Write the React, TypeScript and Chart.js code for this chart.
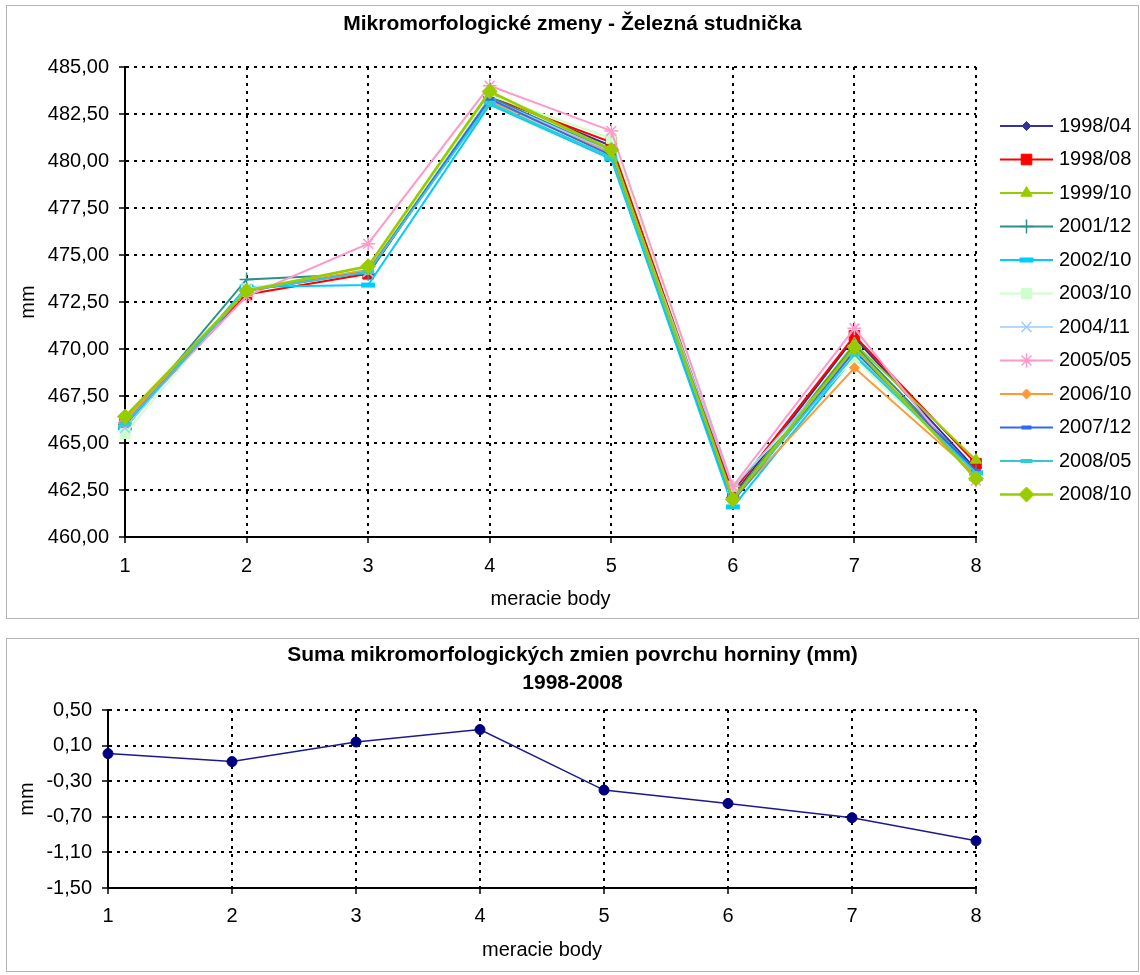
import React, { useEffect, useRef } from 'react';
import { Chart, registerables } from 'chart.js';
import { drawPoint } from 'chart.js/helpers';

Chart.register(...registerables);

const FONT = '"Liberation Sans", Arial, sans-serif';

// measuring points (x categories)
const points = ['1', '2', '3', '4', '5', '6', '7', '8'];

// top chart series (mm)
const seriesNames = ['1998/04', '1998/08', '1999/10', '2001/12', '2002/10', '2003/10', '2004/11', '2005/05', '2006/10', '2007/12', '2008/05', '2008/10'];
const s1998_04 = [466.2, 473.1, 474.2, 483.5, 480.8, 462.2, 470.6, 463.6];
const s1998_08 = [466.0, 472.9, 474.0, 483.4, 481.0, 462.4, 470.7, 463.9];
const s1999_10 = [466.3, 473.1, 474.3, 483.6, 480.6, 462.1, 470.3, 464.1];
const s2001_12 = [466.0, 473.7, 474.0, 483.4, 480.5, 462.1, 470.2, 463.5];
const s2002_10 = [465.8, 473.3, 473.4, 483.0, 480.1, 461.6, 469.6, 463.4];
const s2003_10 = [465.5, 473.2, 474.3, 483.5, 481.2, 462.7, 469.5, 463.3];
const s2004_11 = [465.8, 473.2, 474.1, 483.3, 480.5, 462.6, 469.9, 463.2];
const s2005_05 = [466.1, 472.8, 475.6, 484.0, 481.6, 462.7, 471.1, 463.0];
const s2006_10 = [466.2, 473.1, 474.2, 483.2, 480.4, 462.0, 469.0, 463.3];
const s2007_12 = [466.0, 473.1, 474.1, 483.3, 480.3, 461.9, 469.9, 463.5];
const s2008_05 = [466.0, 473.1, 474.1, 483.1, 480.2, 462.0, 469.7, 463.4];
const s2008_10 = [466.4, 473.1, 474.4, 483.7, 480.6, 462.0, 470.1, 463.1];
const seriesValues = [s1998_04, s1998_08, s1999_10, s2001_12, s2002_10, s2003_10, s2004_11, s2005_05, s2006_10, s2007_12, s2008_05, s2008_10];

// bottom chart: sum of changes (mm)
const sumValues = [0.01, -0.08, 0.14, 0.28, -0.40, -0.55, -0.71, -0.97];

const topTitle = 'Mikromorfologické zmeny - Železná studnička';
const bottomTitle = ['Suma mikromorfologických zmien povrchu horniny (mm)', '1998-2008'];
const xTitle = 'meracie body';
const yTitle = 'mm';

// visual styles per series (not data)
const styles = [
  { color: '#333399', point: 'rectRot', r: 4.5, bw: 1, lw: 2 },
  { color: '#FF0000', point: 'rect', r: 7.5, bw: 1, lw: 2 },
  { color: '#99CC00', point: 'triangle', r: 6.5, bw: 1, lw: 2 },
  { color: '#2F8F8F', point: 'cross', r: 7, bw: 1.5, lw: 2 },
  { color: '#00CCFF', point: 'line', r: 7, bw: 5, lw: 2 },
  { color: '#CCFFCC', point: 'rect', r: 7, bw: 1, lw: 2 },
  { color: '#99CCFF', point: 'crossRot', r: 7, bw: 1.5, lw: 1.5 },
  { color: '#FF99CC', point: 'star', r: 7, bw: 1.5, lw: 2 },
  { color: '#FF9933', point: 'rectRot', r: 5, bw: 1, lw: 2 },
  { color: '#3366FF', point: 'line', r: 5, bw: 4, lw: 2 },
  { color: '#33CCCC', point: 'line', r: 6, bw: 4, lw: 2 },
  { color: '#99CC00', point: 'rectRot', r: 7.5, bw: 1, lw: 2.5 },
];

const TXT = 20;
const fmt = (v: number) => v.toFixed(2).replace('.', ',');

const sideLegend = {
  id: 'sideLegend',
  afterDraw(chart: any) {
    const ctx = chart.ctx;
    const { right, top } = chart.chartArea;
    chart.data.datasets.forEach((ds: any, i: number) => {
      const y = top + 59 + i * 33.5;
      const x0 = right + 24;
      const x1 = right + 77;
      ctx.save();
      ctx.strokeStyle = ds.borderColor;
      ctx.lineWidth = ds.borderWidth;
      ctx.beginPath();
      ctx.moveTo(x0, y);
      ctx.lineTo(x1, y);
      ctx.stroke();
      ctx.fillStyle = ds.pointBackgroundColor;
      ctx.strokeStyle = ds.pointBorderColor;
      ctx.lineWidth = ds.pointBorderWidth;
      drawPoint(ctx, { pointStyle: ds.pointStyle, radius: ds.pointRadius, rotation: 0, borderWidth: ds.pointBorderWidth } as any, (x0 + x1) / 2, y);
      ctx.fillStyle = '#000';
      ctx.font = `${TXT}px ${FONT}`;
      ctx.textBaseline = 'middle';
      ctx.textAlign = 'left';
      ctx.fillText(ds.label, x1 + 6, y);
      ctx.restore();
    });
  },
};

function axisCommon(axisW: number | null, axisH: number | null) {
  return {
    grid: { color: '#000', lineWidth: 2, tickColor: '#000', tickWidth: 1.5, tickLength: 6, tickBorderDash: [] },
    border: { display: true, color: '#000', width: 2, dash: [3, 5] },
    afterFit: (s: any) => {
      if (axisW !== null) s.width = axisW;
      if (axisH !== null) s.height = axisH;
    },
  };
}

// empty axis on the right, reserving room for the legend so the title stays centred on the whole box
const spacerAxis = {
  type: 'linear',
  position: 'right',
  display: true,
  min: 0,
  max: 1,
  grid: { display: false },
  border: { display: false },
  ticks: { display: false },
  afterFit: (s: any) => {
    s.width = 162;
  },
};

function makeTopConfig(): any {
  return {
    type: 'line',
    data: {
      labels: points,
      datasets: seriesNames.map((name, i) => ({
        label: name,
        data: seriesValues[i],
        borderColor: styles[i].color,
        backgroundColor: styles[i].color,
        borderWidth: styles[i].lw,
        pointStyle: styles[i].point,
        pointRadius: styles[i].r,
        pointBackgroundColor: styles[i].color,
        pointBorderColor: styles[i].color,
        pointBorderWidth: styles[i].bw,
        tension: 0,
        clip: false,
        order: seriesNames.length - i,
      })),
    },
    options: {
      animation: false,
      responsive: false,
      events: [],
      layout: { padding: 0 },
      plugins: {
        legend: { display: false },
        tooltip: { enabled: false },
        title: {
          display: true,
          text: topTitle,
          color: '#000',
          font: { family: FONT, size: 21, weight: 'bold', lineHeight: 1.2 },
          padding: { top: 6, bottom: 29.8 },
        },
      },
      scales: {
        x: {
          type: 'category',
          offset: false,
          ...axisCommon(null, 81),
          ticks: { color: '#000', font: { family: FONT, size: TXT }, padding: 11, autoSkip: false, maxRotation: 0 },
          title: { display: true, text: xTitle, color: '#000', font: { family: FONT, size: TXT }, padding: { top: 0, bottom: 7 } },
        },
        y: {
          min: 460,
          max: 485,
          ...axisCommon(118, null),
          ticks: { stepSize: 2.5, color: '#000', font: { family: FONT, size: TXT }, padding: 10, callback: (v: any) => fmt(Number(v)) },
          title: { display: true, text: yTitle, color: '#000', font: { family: FONT, size: TXT }, padding: { top: 9, bottom: 0 } },
        },
        spacer: spacerAxis,
      },
    },
    plugins: [sideLegend],
  };
}

function makeBottomConfig(): any {
  return {
    type: 'line',
    data: {
      labels: points,
      datasets: [
        {
          label: 'Suma',
          data: sumValues,
          borderColor: '#1A1A8C',
          backgroundColor: '#000080',
          borderWidth: 1.5,
          pointStyle: 'circle',
          pointRadius: 5,
          pointBackgroundColor: '#000080',
          pointBorderColor: '#000080',
          pointBorderWidth: 1,
          tension: 0,
          clip: false,
        },
      ],
    },
    options: {
      animation: false,
      responsive: false,
      events: [],
      layout: { padding: 0 },
      plugins: {
        legend: { display: false },
        tooltip: { enabled: false },
        title: {
          display: true,
          text: bottomTitle,
          color: '#000',
          font: { family: FONT, size: 21, weight: 'bold', lineHeight: 1.333 },
          padding: { top: 2, bottom: 13 },
        },
      },
      scales: {
        x: {
          type: 'category',
          offset: false,
          ...axisCommon(null, 83),
          ticks: { color: '#000', font: { family: FONT, size: TXT }, padding: 10.5, autoSkip: false, maxRotation: 0 },
          title: { display: true, text: xTitle, color: '#000', font: { family: FONT, size: TXT }, padding: { top: 0, bottom: 9 } },
        },
        y: {
          min: -1.5,
          max: 0.5,
          ...axisCommon(101, null),
          ticks: { stepSize: 0.4, color: '#000', font: { family: FONT, size: TXT }, padding: 10, callback: (v: any) => fmt(Number(v)) },
          title: { display: true, text: yTitle, color: '#000', font: { family: FONT, size: TXT }, padding: { top: 8, bottom: 0 } },
        },
        spacer: spacerAxis,
      },
    },
  };
}

function ChartBox(props: { left: number; top: number; width: number; height: number; make: () => any }) {
  const ref = useRef<HTMLCanvasElement | null>(null);
  useEffect(() => {
    if (!ref.current) return;
    const chart = new Chart(ref.current, props.make());
    return () => chart.destroy();
  }, []);
  return (
    <div
      style={{
        position: 'absolute',
        left: props.left,
        top: props.top,
        width: props.width,
        height: props.height,
        boxSizing: 'border-box',
        border: '1px solid #b4b4b4',
        background: '#fff',
      }}
    >
      <canvas ref={ref} width={props.width - 2} height={props.height - 2} style={{ display: 'block', width: props.width - 2, height: props.height - 2 }} />
    </div>
  );
}

export default function App() {
  return (
    <div style={{ position: 'absolute', left: 0, top: 0, width: 1140, height: 975, background: '#fff' }}>
      <ChartBox left={6} top={5} width={1133} height={614} make={makeTopConfig} />
      <ChartBox left={6} top={638} width={1133} height={334} make={makeBottomConfig} />
    </div>
  );
}
